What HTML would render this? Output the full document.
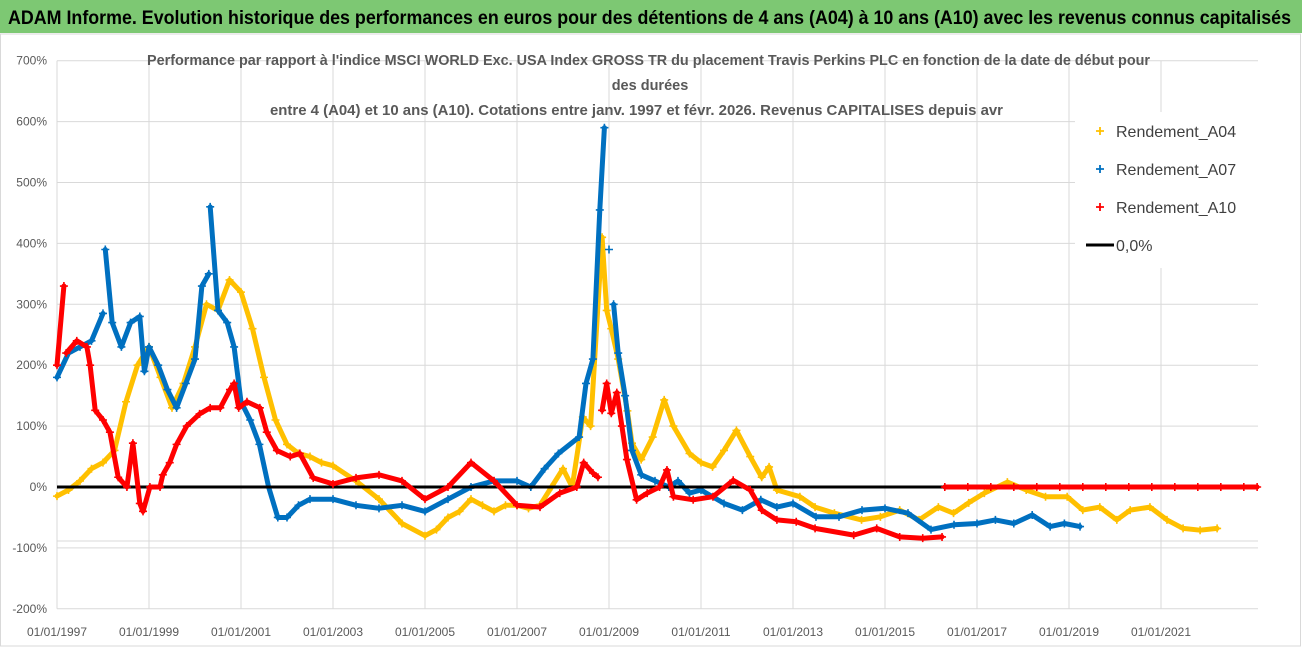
<!DOCTYPE html>
<html><head><meta charset="utf-8"><style>
html,body{margin:0;padding:0;background:#fff;}
svg{display:block;font-family:"Liberation Sans Narrow","Liberation Sans",sans-serif;}
</style></head><body>
<svg id="chart" width="1302" height="647" viewBox="0 0 1302 647">
<rect x="0" y="0" width="1302" height="647" fill="#fff"/>
<rect x="0.5" y="34" width="1300" height="612" fill="#fff" stroke="#d9d9d9"/>
<rect x="0" y="0" width="1302" height="33" fill="#7DC873"/>
<text x="8" y="24" font-size="19" font-weight="bold" fill="#000" textLength="1283" lengthAdjust="spacingAndGlyphs">ADAM Informe. Evolution historique des performances en euros pour des détentions de 4 ans (A04) à 10 ans (A10) avec les revenus connus capitalisés</text>
<g id="grid"></g>
<g id="series"></g>
<g id="axes"></g>
<g font-size="14.5" font-weight="bold" fill="#595959">
<text x="147" y="65" textLength="1003" lengthAdjust="spacingAndGlyphs">Performance par rapport à l'indice MSCI WORLD Exc. USA Index GROSS TR  du placement Travis Perkins PLC en fonction de la date de début pour</text>
<text x="650" y="90" text-anchor="middle">des durées</text>
<text x="270" y="115" textLength="733" lengthAdjust="spacingAndGlyphs">entre 4 (A04) et 10 ans (A10).  Cotations entre janv. 1997 et févr. 2026. Revenus CAPITALISES depuis avr</text>
</g>
<g id="legend"></g>
</svg>
<script>
// ---- data ----
var yTicks = [700,600,500,400,300,200,100,0,-100,-200];
var yTickLabels = ["700%","600%","500%","400%","300%","200%","100%","0%","-100%","-200%"];
var xTickYears = [1997,1999,2001,2003,2005,2007,2009,2011,2013,2015,2017,2019,2021];
var xTickLabels = ["01/01/1997","01/01/1999","01/01/2001","01/01/2003","01/01/2005","01/01/2007","01/01/2009","01/01/2011","01/01/2013","01/01/2015","01/01/2017","01/01/2019","01/01/2021"];
var seriesNames = ["Rendement_A04","Rendement_A07","Rendement_A10"];

var a04Dates = [1997.0,1997.25,1997.5,1997.75,1998.0,1998.25,1998.5,1998.75,1999.0,1999.25,1999.5,1999.75,2000.0,2000.25,2000.5,2000.75,2001.0,2001.25,2001.5,2001.75,2002.0,2002.25,2002.5,2002.75,2003.0,2003.5,2004.0,2004.5,2005.0,2005.25,2005.5,2005.75,2006.0,2006.25,2006.5,2006.75,2007.0,2007.25,2007.5,2007.75,2008.0,2008.2,2008.43,2008.6,2008.85,2008.95,2009.05,2009.2,2009.4,2009.5,2009.7,2009.95,2010.2,2010.4,2010.75,2011.0,2011.25,2011.5,2011.77,2012.07,2012.32,2012.48,2012.65,2013.15,2013.48,2013.9,2014.49,2014.9,2015.32,2015.74,2016.16,2016.49,2016.82,2017.16,2017.66,2018.07,2018.49,2018.96,2019.3,2019.67,2020.04,2020.33,2020.76,2021.13,2021.48,2021.85,2022.22];
var a04Vals = [-15,-5,10,30,40,60,140,200,230,180,130,170,230,300,290,340,320,260,180,110,70,55,50,40,35,10,-20,-60,-80,-70,-50,-40,-20,-30,-40,-30,-30,-35,-30,0,30,0,115,100,410,290,260,210,125,72,45,82,143,100,55,40,33,60,93,50,16,33,-5,-16,-33,-43,-54,-49,-38,-54,-33,-43,-26,-10,8,-5,-16,-16,-38,-33,-54,-38,-33,-54,-68,-71,-68];

var a07Dates = [1997.0,1997.25,1997.5,1997.75,1998.0,1998.05,1998.2,1998.4,1998.6,1998.8,1998.9,1999.0,1999.2,1999.4,1999.6,1999.8,2000.0,2000.15,2000.3,2000.33,2000.5,2000.7,2000.85,2001.0,2001.2,2001.4,2001.6,2001.8,2002.0,2002.25,2002.5,2003.0,2003.5,2004.0,2004.5,2005.0,2005.5,2006.0,2006.5,2007.0,2007.3,2007.6,2007.9,2008.35,2008.5,2008.65,2008.8,2008.9,2009.0,2009.1,2009.2,2009.35,2009.5,2009.7,2010.0,2010.3,2010.5,2010.75,2011.0,2011.5,2011.9,2012.3,2012.65,2013.0,2013.5,2014.0,2014.5,2015.0,2015.5,2016.0,2016.5,2017.0,2017.4,2017.8,2018.2,2018.59,2018.9,2019.24];
var a07Vals = [180,220,230,240,285,390,270,230,270,280,190,230,200,160,130,170,210,330,350,460,290,270,230,140,110,70,0,-50,-50,-30,-20,-20,-30,-35,-30,-40,-20,0,10,10,0,30,55,82,170,210,455,590,390,300,220,150,60,20,10,0,10,-10,-5,-27,-38,-21,-33,-27,-49,-49,-38,-35,-43,-70,-62,-60,-54,-60,-46,-65,-60,-65,-57,-65];

var a10Dates = [1997.0,1997.15,1997.2,1997.43,1997.65,1997.72,1997.83,1998.0,1998.15,1998.33,1998.52,1998.65,1998.8,1998.87,1999.02,1999.24,1999.3,1999.45,1999.6,1999.82,2000.1,2000.33,2000.55,2000.76,2000.85,2000.95,2001.13,2001.41,2001.56,2001.78,2002.07,2002.28,2002.57,2003.0,2003.5,2004.0,2004.5,2005.0,2005.5,2006.0,2006.5,2007.0,2007.5,2007.93,2008.3,2008.45,2008.65,2008.76,2008.85,2008.95,2009.05,2009.17,2009.28,2009.39,2009.6,2009.83,2010.1,2010.26,2010.4,2010.83,2011.26,2011.7,2012.07,2012.32,2012.65,2013.07,2013.48,2014.32,2014.82,2015.32,2015.82,2016.24,2016.3,2016.8,2017.3,2017.8,2018.3,2018.8,2019.3,2019.8,2020.3,2020.8,2021.3,2021.8,2022.3,2022.8,2023.09];
var a10Vals = [200,330,220,240,230,200,126,110,90,16,0,72,-27,-40,0,0,20,40,70,100,120,130,130,160,170,130,140,130,90,60,50,55,15,5,15,20,10,-20,0,40,10,-30,-33,-10,0,40,23,16,126,170,121,155,100,45,-21,-10,0,28,-16,-21,-16,11,-5,-38,-54,-57,-68,-79,-68,-82,-84,-82,0,0,0,0,0,0,0,0,0,0,0,0,0,0,0];

var refDates = [1997.0,2016.3];
var refVals = [0,0];

// ---- scales ----
var X0=57, PXPERYEAR=46, Y0=487, PXPERPCT=0.609;
function xScale(t){return X0+(t-1997)*PXPERYEAR;}
function yScale(v){return Y0-v*PXPERPCT;}
var NS="http://www.w3.org/2000/svg";
function mk(tag,attrs,parent){var e=document.createElementNS(NS,tag);for(var k in attrs)e.setAttribute(k,attrs[k]);parent.appendChild(e);return e;}

var grid=document.getElementById('grid');
var axes=document.getElementById('axes');
var series=document.getElementById('series');
var legend=document.getElementById('legend');

yTicks.forEach(function(v,i){
  var y=yScale(v);
  var l=mk('line',{x1:X0,x2:1258,y1:y,y2:y,stroke:'#d9d9d9','stroke-width':1},grid);
  
  
  var t=mk('text',{x:47,y:y+4,'text-anchor':'end','font-size':12,fill:'#595959'},axes);
  t.textContent=yTickLabels[i];
  
  
});
var extra=mk('line',{x1:X0,x2:1258,y1:541,y2:541,stroke:'#d9d9d9','stroke-width':1},grid);


xTickYears.forEach(function(yr,i){
  var x=xScale(yr);
  var l=mk('line',{x1:x,x2:x,y1:yScale(700),y2:yScale(-200),stroke:'#d9d9d9','stroke-width':1},grid);
  
  
  var t=mk('text',{x:x,y:636,'text-anchor':'middle','font-size':12,fill:'#595959'},axes);
  t.textContent=xTickLabels[i];
  
  
});

function drawSeries(dates,vals,color,name){
  var g=mk('g',{},series);
  
  
  var d='';
  dates.forEach(function(dt,i){
    var x=xScale(dt).toFixed(1), y=yScale(vals[i]).toFixed(1);
    var brk = i===0 || (Math.abs(vals[i]-vals[i-1])>60 && (dt-dates[i-1])<0.1);
    d += (brk?'M':'L')+x+' '+y+' ';
  });
  var pl=mk('path',{d:d,fill:'none',stroke:color,'stroke-width':5,'stroke-linejoin':'round','stroke-linecap':'round'},g);
  
  
  dates.forEach(function(dt,i){
    var x=xScale(dt),y=yScale(vals[i]);
    var p=mk('path',{d:'M'+(x-4)+' '+y+'h8M'+x+' '+(y-4)+'v8',stroke:color,'stroke-width':1.6},g);
    
    
  });
}
drawSeries(a04Dates,a04Vals,'#FFC000','series-a04');
drawSeries(a07Dates,a07Vals,'#0070C0','series-a07');
var ref=mk('line',{x1:xScale(refDates[0]),x2:xScale(refDates[1]),y1:yScale(refVals[0]),y2:yScale(refVals[1]),stroke:'#000','stroke-width':3},series);


drawSeries(a10Dates,a10Vals,'#FF0000','series-a10');

// legend
var lbg=mk('rect',{x:1075,y:112,width:198,height:156,fill:'#fff'},legend);


var legColors=['#FFC000','#0070C0','#FF0000'];
var legNames=seriesNames.concat(['0,0%']);
legNames.forEach(function(n,i){
  var y=131+i*38;
  var g=mk('g',{},legend);
  
  
  if(i<3){
    var p=mk('path',{d:'M1096 '+y+'h8M1100 '+(y-4)+'v8',stroke:legColors[i],'stroke-width':1.8},g);
    
    
  } else {
    var l=mk('line',{x1:1086,x2:1114,y1:y,y2:y,stroke:'#000','stroke-width':3},g);
    
    
  }
  var t=mk('text',{x:1116,y:y+6,'font-size':16,fill:'#404040'},g);
  t.textContent=n;
  
  
});
</script>
</body></html>
